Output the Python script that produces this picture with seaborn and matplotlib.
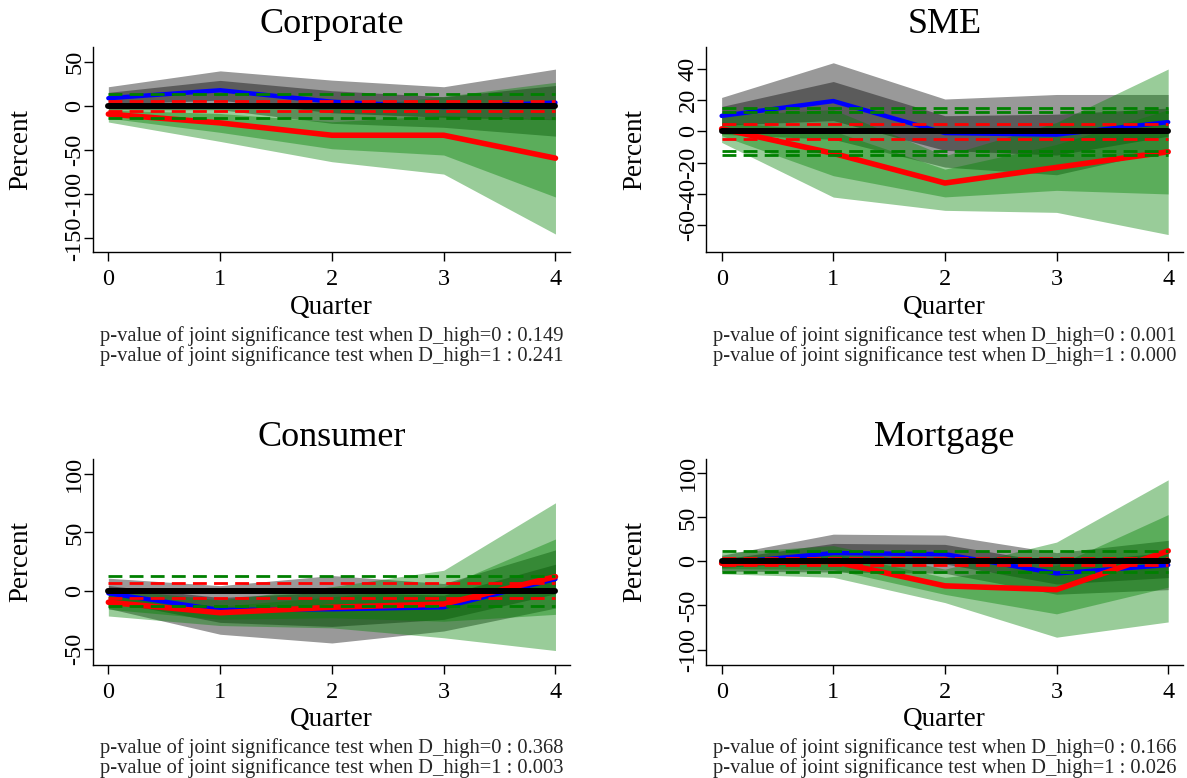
import numpy as np
import seaborn as sns
import matplotlib.pyplot as plt

sns.set_theme(style="ticks")
plt.rcParams["font.family"] = ["Liberation Serif", "DejaVu Serif"]
plt.rcParams["axes.unicode_minus"] = False

quarters = [0, 1, 2, 3, 4]
panels = ["Corporate", "SME", "Consumer", "Mortgage"]

# D_high=0 response (blue) and its 95% / 68% bands (gray)
irf_low = [
    [9, 18, 5, -1, 4],
    [10, 19.5, -1, -2, 6],
    [-2.3, -16.6, -16, -14.3, 10],
    [-2, 9.5, 8.3, -13.6, -4],
]
low_hi95 = [
    [22, 40, 29.5, 22, 42],
    [21.8, 44, 20.8, 23.7, 23.7],
    [10.7, 4.3, 13, 6.1, 35],
    [7, 31, 30, 10, 24],
]
low_lo95 = [
    [-4, -4, -19.5, -24, -34],
    [-1.8, -5, -22.8, -27.7, -11.7],
    [-15.3, -37.5, -45, -34.7, -15],
    [-11, -12, -13.4, -37.2, -32],
]
low_hi68 = [
    [15.6, 29.2, 17.5, 10.7, 23.4],
    [16, 32, 10.1, 11.1, 15],
    [4.3, -5.9, -1.2, -3.9, 22.7],
    [2.6, 20.5, 19.4, -1.6, 10.3],
]
low_lo68 = [
    [2.4, 6.8, -7.5, -12.7, -15.4],
    [4, 7, -12.1, -15.1, -3],
    [-8.9, -27.3, -30.8, -24.7, -2.7],
    [-6.6, -1.5, -2.8, -25.6, -18.3],
]

# D_high=1 response (red) and its 95% / 68% bands (green)
irf_high = [
    [-9, -19, -33, -33, -59],
    [1.7, -14, -33, -23, -13],
    [-10, -19, -14.3, -11.5, 12],
    [-2, 0, -27.7, -32, 12],
]
high_hi95 = [
    [0, 2, -3, 11, 27],
    [10.4, 14, -15.5, 5.8, 40],
    [1.8, -8, 3.4, 17.5, 75.5],
    [10, 18, -8.7, 22, 92.7],
]
high_lo95 = [
    [-18, -40, -63, -77, -145],
    [-7, -42, -50.5, -51.8, -66],
    [-21.8, -30, -32, -40.5, -51.5],
    [-14, -18, -46.7, -86, -68.7],
]
high_hi68 = [
    [-4.4, -8.3, -17.7, -10.6, -15],
    [6.1, 0.3, -24.1, -8.3, 14],
    [-4, -13.4, -5.3, 3.3, 44.4],
    [4.1, 9.2, -18, -4.5, 53.2],
]
high_lo68 = [
    [-13.6, -29.7, -48.3, -55.4, -103],
    [-2.7, -28.3, -41.9, -37.7, -40],
    [-16, -24.6, -23.3, -26.3, -20.4],
    [-8.1, -9.2, -37.4, -59.5, -29.2],
]

# horizontal dashed reference levels
green_levels = [[14, -14], [15, 12.2, -12.4, -15.1], [12.9, -12.9], [12.1, -12.1]]
red_levels = [[5.5, -5.5], [4.8, -5], [6.3, -6.3], [3.8, -3.8]]

pval_low = ["0.149", "0.001", "0.368", "0.166"]
pval_high = ["0.241", "0.000", "0.003", "0.026"]

ylims = [(-165.6, 67.4), (-77.3, 54.3), (-63.5, 112.9), (-117, 116)]
yticks = [[-150, -100, -50, 0, 50], [-60, -40, -20, 0, 20, 40],
          [-50, 0, 50, 100], [-100, -50, 0, 50, 100]]

W, H = 1187, 778
boxes = [(92.7, 46.7, 570, 252.2), (706, 46.7, 1182.7, 252.2),
         (92.7, 459.3, 570, 664.5), (706, 459.3, 1182.7, 664.5)]

fig = plt.figure(figsize=(W / 100, H / 100), dpi=100)

for i, name in enumerate(panels):
    x0, y0, x1, y1 = boxes[i]
    ax = fig.add_axes([x0 / W, 1 - y1 / H, (x1 - x0) / W, (y1 - y0) / H])
    ax.set_facecolor("white")

    ax.fill_between(quarters, low_lo95[i], low_hi95[i], color="black", alpha=0.4, lw=0)
    ax.fill_between(quarters, low_lo68[i], low_hi68[i], color="black", alpha=0.4, lw=0)
    ax.fill_between(quarters, high_lo95[i], high_hi95[i], color="#008000", alpha=0.4, lw=0)
    ax.fill_between(quarters, high_lo68[i], high_hi68[i], color="#008000", alpha=0.4, lw=0)

    sns.lineplot(x=quarters, y=irf_low[i], color="blue", lw=3.2, ax=ax,
                 solid_capstyle="round")
    sns.lineplot(x=quarters, y=irf_high[i], color="red", lw=4, ax=ax,
                 solid_capstyle="round")
    for lev in green_levels[i]:
        ax.plot([0, 4], [lev, lev], color="#008000", lw=2, ls=(0, (5, 2.6)))
    for lev in red_levels[i]:
        ax.plot([0, 4], [lev, lev], color="red", lw=2, ls=(0, (5, 2.6)))
    ax.plot([0, 4], [0, 0], color="black", lw=4.3, solid_capstyle="round")

    ax.set_xlim(-0.14, 4.13)
    ax.set_ylim(*ylims[i])
    ax.set_xticks(quarters)
    ax.set_yticks(yticks[i])
    ax.tick_params(axis="both", direction="out", length=6.8, width=1,
                   color="black", labelsize=17.5, labelcolor="black")
    ax.tick_params(axis="x", pad=5.5)
    ax.tick_params(axis="y", labelrotation=90, pad=-1.5)
    for lab in ax.get_yticklabels():
        lab.set_va("center")
    sns.despine(ax=ax)
    for s in ("left", "bottom"):
        ax.spines[s].set_color("black")
        ax.spines[s].set_linewidth(1)
    ax.grid(False)

    ax.set_title(name, fontsize=26, pad=9.7, color="black")
    ax.set_xlabel("Quarter", fontsize=19.5, color="black")
    ax.set_ylabel("Percent", fontsize=19.5, color="black")
    ax.xaxis.set_label_coords(0.5, -0.207)
    ax.yaxis.set_label_coords(-0.124, 0.5)

    ax.text(0.5, -0.431,
            f"p-value of joint significance test when D_high=0 : {pval_low[i]}",
            transform=ax.transAxes, ha="center", va="baseline", fontsize=14.8)
    ax.text(0.5, -0.528,
            f"p-value of joint significance test when D_high=1 : {pval_high[i]}",
            transform=ax.transAxes, ha="center", va="baseline", fontsize=14.8)

fig.savefig("out.png", dpi=100)
